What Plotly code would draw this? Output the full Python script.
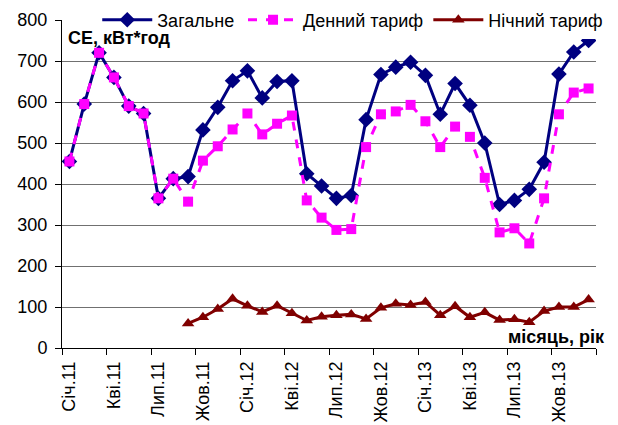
import plotly.graph_objects as go

months = ["Січ.11", "Лют.11", "Бер.11", "Кві.11", "Тра.11", "Чер.11", "Лип.11", "Сер.11", "Вер.11",
          "Жов.11", "Лис.11", "Гру.11", "Січ.12", "Лют.12", "Бер.12", "Кві.12", "Тра.12", "Чер.12",
          "Лип.12", "Сер.12", "Вер.12", "Жов.12", "Лис.12", "Гру.12", "Січ.13", "Лют.13", "Бер.13",
          "Кві.13", "Тра.13", "Чер.13", "Лип.13", "Сер.13", "Вер.13", "Жов.13", "Лис.13", "Гру.13"]

total = [455, 595, 720, 660, 590, 572, 365, 413, 418, 532, 587, 652,
         676, 610, 650, 652, 425, 395, 365, 372, 557, 667, 685, 697,
         665, 570, 645, 592, 500, 350, 360, 387, 453, 668, 722, 750]

day = [455, 595, 720, 660, 590, 572, 365, 413, 357, 457, 492, 533,
       572, 521, 547, 567, 360, 318, 288, 290, 490, 570, 577, 593,
       553, 490, 540, 515, 415, 282, 292, 255, 365, 570, 623, 633]

night = [None] * 8 + [60, 75, 95, 120,
                      103, 88, 103, 85, 67, 76, 80, 82, 71, 98, 108, 105,
                      112, 80, 102, 75, 87, 68, 70, 63, 90, 100, 100, 118]

idx = list(range(len(months)))
label_idx = idx[::3]
label_text = months[::3]
boundaries = [i - 0.5 for i in idx[::3]] + [len(months) - 0.5]

FONT = "Liberation Sans, Arial, sans-serif"

fig = go.Figure()
fig.add_trace(go.Scatter(x=idx, y=total, name="Загальне", mode="lines+markers",
                         line=dict(color="#000080", width=3), legend="legend",
                         marker=dict(symbol="diamond", size=12, color="#000080")))
fig.add_trace(go.Scatter(x=idx, y=day, name="Денний тариф", mode="lines+markers",
                         line=dict(color="#FF00FF", width=3, dash="dash"), legend="legend2",
                         marker=dict(symbol="square", size=10, color="#FF00FF")))
fig.add_trace(go.Scatter(x=idx, y=night, name="Нічний тариф", mode="lines+markers",
                         line=dict(color="#800000", width=3), legend="legend3",
                         marker=dict(symbol="triangle-up", size=11, color="#800000")))

# invisible trace to activate label axis
fig.add_trace(go.Scatter(x=[None], y=[None], xaxis="x2", showlegend=False, hoverinfo="skip"))

leg = dict(orientation="h", xanchor="left", y=1.0, yanchor="middle",
           bgcolor="white", font=dict(size=18), itemwidth=50)

fig.update_layout(
    width=618, height=425,
    margin=dict(l=62, r=22, t=20, b=77, autoexpand=False),
    paper_bgcolor="white", plot_bgcolor="white",
    font=dict(family=FONT, size=18, color="black"),
    showlegend=True,
    legend=dict(leg, x=0.066),
    legend2=dict(leg, x=0.339),
    legend3=dict(leg, x=0.686),
    xaxis=dict(range=[-0.5, len(months) - 0.5], tickmode="array", tickvals=boundaries,
               ticktext=[""] * len(boundaries), ticks="outside", ticklen=6, tickcolor="black",
               showgrid=False, zeroline=False, showline=True, linecolor="black", linewidth=1),
    xaxis2=dict(range=[-0.5, len(months) - 0.5], overlaying="x", side="bottom",
                tickmode="array", tickvals=label_idx, ticktext=label_text,
                tickangle=-90, ticks="", showgrid=False, zeroline=False, showline=False,
                tickfont=dict(size=18), ticklabelstandoff=9),
    yaxis=dict(range=[0, 800], dtick=100, ticks="outside", ticklen=6, tickcolor="black",
               showgrid=True, gridcolor="#707070", gridwidth=1, zeroline=False,
               showline=True, linecolor="black", linewidth=1, tickfont=dict(size=18),
               ticklabelstandoff=4),
    annotations=[
        dict(text="<b>СЕ, кВт*год</b>", xref="paper", yref="paper", x=0.008, y=0.945,
             xanchor="left", yanchor="middle", showarrow=False, font=dict(size=18)),
        dict(text="<b>місяць, рік</b>", xref="paper", yref="paper", x=1.02, y=0.034,
             xanchor="right", yanchor="middle", showarrow=False, font=dict(size=18)),
    ],
)

fig.write_html("out.html", config={"displayModeBar": False},
               post_script="document.body.style.margin='0';document.body.style.padding='0';")
